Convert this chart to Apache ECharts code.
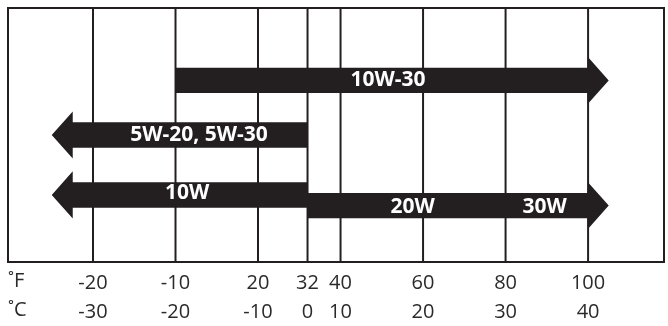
<!DOCTYPE html>
<html>
<head>
<meta charset="utf-8">
<script src="https://cdn.jsdelivr.net/npm/echarts@6/dist/echarts.min.js"></script>
<style>html,body{margin:0;padding:0;background:#fff;}#c{width:668px;height:326px;}</style>
</head>
<body>
<div id="c"></div>
<script>
// Grid line positions (on a Fahrenheit-like position scale) and tick labels
const gridPositions = [-20, 0, 20, 32, 40, 60, 80, 100];
const fLabels = ['-20', '-10', '20', '32', '40', '60', '80', '100'];
const cLabels = ['-30', '-20', '-10', '0', '10', '20', '30', '40'];

// Arrows: start position, tip position, row
const arrowStart = [0, 32, 32, 32];
const arrowTip = [105, -30, -30, 105];
const arrowRow = [2.85, 5.0, 7.36, 7.78];

// Text inside arrows
const textLabels = ['10W-30', '5W-20, 5W-30', '10W', '20W', '30W'];
const textPos = [51.5, 5.7, 2.8, 57.5, 89.5];
const textRow = [2.85, 5.0, 7.3, 7.85, 7.85];

const chart = echarts.init(document.getElementById('c'));
const FONT = 'Open Sans';
const ARROW_COLOR = '#231f20';

const arrowData = arrowStart.map((s, i) => [s, arrowTip[i], arrowRow[i]]);
const textData = textLabels.map((t, i) => [textPos[i], textRow[i], t]);
const lineData = gridPositions.map(v => [v]);

chart.setOption({
  animation: false,
  grid: {left: 8, right: 4, top: 8, bottom: 64, show: true, borderColor: '#231f20', borderWidth: 2, backgroundColor: 'transparent'},
  xAxis: [
    {type: 'value', min: -40.6, max: 118.4, position: 'bottom',
     axisLine: {show: false}, axisTick: {show: false}, splitLine: {show: false},
     axisLabel: {customValues: gridPositions, margin: 11, fontSize: 20, color: '#2a2a2a', fontFamily: FONT,
       formatter: v => fLabels[gridPositions.indexOf(v)] || ''}},
    {type: 'value', min: -40.6, max: 118.4, position: 'bottom', offset: 29,
     axisLine: {show: false}, axisTick: {show: false}, splitLine: {show: false},
     axisLabel: {customValues: gridPositions, margin: 11, fontSize: 20, color: '#2a2a2a', fontFamily: FONT,
       formatter: v => cLabels[gridPositions.indexOf(v)] || ''}}
  ],
  yAxis: {type: 'value', min: 0, max: 10, inverse: true, show: false, splitLine: {show: false}},
  graphic: [
    {type: 'text', left: 8, top: 271, style: {text: '˚F', fontSize: 20, fill: '#2a2a2a', fontFamily: FONT}},
    {type: 'text', left: 8, top: 300, style: {text: '˚C', fontSize: 20, fill: '#2a2a2a', fontFamily: FONT}}
  ],
  series: [
    {
      type: 'custom', xAxisIndex: 0, data: lineData, z: 1, silent: true,
      renderItem: (params, api) => {
        const top = api.coord([api.value(0), 0]);
        const bot = api.coord([api.value(0), 10]);
        return {type: 'line', shape: {x1: top[0], y1: top[1], x2: bot[0], y2: bot[1]},
          style: {stroke: '#231f20', lineWidth: 2}};
      }
    },
    {
      type: 'custom', xAxisIndex: 0, data: arrowData, z: 2, silent: true,
      renderItem: (params, api) => {
        const s = api.value(0), t = api.value(1), r = api.value(2);
        const dir = t > s ? 1 : -1;
        const ps = api.coord([s, r]);
        const pt = api.coord([t, r]);
        const bTop = api.coord([s, r - 0.5])[1];
        const bBot = api.coord([s, r + 0.5])[1];
        const hTop = api.coord([s, r - 0.93])[1];
        const hBot = api.coord([s, r + 0.93])[1];
        const hb = pt[0] - dir * 21;
        return {type: 'polygon', shape: {points: [
          [ps[0], bTop], [hb, bTop], [hb, hTop], [pt[0], pt[1]], [hb, hBot], [hb, bBot], [ps[0], bBot]
        ]}, style: {fill: ARROW_COLOR}};
      }
    },
    {
      type: 'custom', xAxisIndex: 0, data: textData, z: 3, silent: true,
      renderItem: (params, api) => {
        const p = api.coord([api.value(0), api.value(1)]);
        return {type: 'text', x: p[0], y: p[1], style: {text: textLabels[params.dataIndex], fill: '#fff',
          fontSize: 21, fontWeight: 'bold', fontFamily: FONT, align: 'center', verticalAlign: 'middle'}};
      }
    }
  ]
});
</script>
</body>
</html>
